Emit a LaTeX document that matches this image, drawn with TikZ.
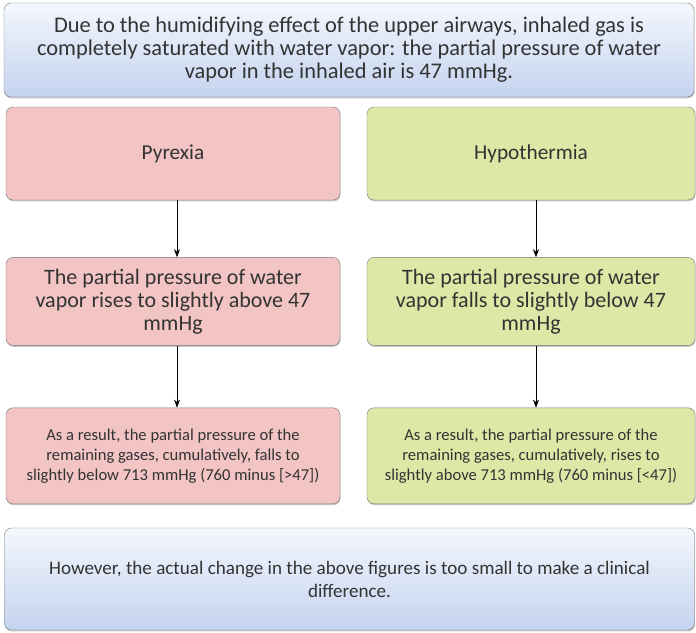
\documentclass[tikz,border=0pt]{standalone}
\usepackage{fontspec}
\setmainfont{Carlito}
\usetikzlibrary{positioning,shadows,arrows.meta}
\definecolor{blueTop}{RGB}{244,247,253}
\definecolor{blueBot}{RGB}{196,211,239}
\definecolor{pinkFill}{RGB}{242,196,196}
\definecolor{greenFill}{RGB}{221,231,166}
\definecolor{edgeGray}{RGB}{120,120,120}

\begin{document}
\begin{tikzpicture}[
  x=1pt, y=1pt,
  box/.style = {
    draw = edgeGray,
    rounded corners = 7pt,
    align = center,
    inner sep = 2pt,
    drop shadow = {shadow xshift=0.6pt, shadow yshift=-1.4pt, opacity=0.45},
    text = black!80,
  },
  infobox/.style = {
    box,
    top color = blueTop,
    bottom color = blueBot,
    minimum width = 690pt,
  },
  pinkbox/.style = {box, fill = pinkFill, minimum width = 334pt},
  greenbox/.style = {box, fill = greenFill, minimum width = 328pt},
  >={Stealth[length=8pt,width=6pt]},
]
  \useasboundingbox (0,0) rectangle (696,-632);

  \node[infobox,minimum height=94pt,font=\fontsize{22.4}{23}\selectfont] (humid) at (349,-50)
    {Due to the humidifying effect of the upper airways, inhaled gas is\\
     completely saturated with water vapor: the partial pressure of water\\
     vapor in the inhaled air is 47 mmHg.};

  \node[pinkbox,minimum height=93pt,font=\fontsize{21.3}{23}\selectfont] (pyr) at (173,-153.5) {Pyrexia};
  \node[greenbox,minimum height=93pt,font=\fontsize{21.3}{23}\selectfont] (hypo) at (531,-153.5) {Hypothermia};

  \node[pinkbox,minimum height=88pt,font=\fontsize{22}{23}\selectfont] (pyrvap) [below=57pt of pyr]
    {The partial pressure of water\\ vapor rises to slightly above 47\\ mmHg};
  \node[greenbox,minimum height=88pt,font=\fontsize{22}{23}\selectfont] (hypovap) [below=57pt of hypo]
    {The partial pressure of water\\ vapor falls to slightly below 47\\ mmHg};

  \node[pinkbox,minimum height=96pt,font=\fontsize{16.6}{20}\selectfont] (pyrgas) [below=62pt of pyrvap]
    {As a result, the partial pressure of the\\ remaining gases, cumulatively, falls to\\
     slightly below 713 mmHg (760 minus [>47])};
  \node[greenbox,minimum height=96pt,font=\fontsize{16.6}{20}\selectfont] (hypogas) [below=62pt of hypovap]
    {As a result, the partial pressure of the\\ remaining gases, cumulatively, rises to\\
     slightly above 713 mmHg (760 minus [<47])};

  \node[infobox,minimum height=102pt,font=\fontsize{19.1}{23}\selectfont] (clinic) at (349.5,-579)
    {However, the actual change in the above figures is too small to make a clinical\\ difference.};

  \path[->,semithick] ([xshift=4pt]pyr.south) edge ([xshift=4pt]pyrvap.north);
  \path[->,semithick] ([xshift=5pt]hypo.south) edge ([xshift=5pt]hypovap.north);
  \path[->,semithick] ([xshift=4pt]pyrvap.south) edge ([xshift=4pt]pyrgas.north);
  \path[->,semithick] ([xshift=5pt]hypovap.south) edge ([xshift=5pt]hypogas.north);
\end{tikzpicture}
\end{document}
